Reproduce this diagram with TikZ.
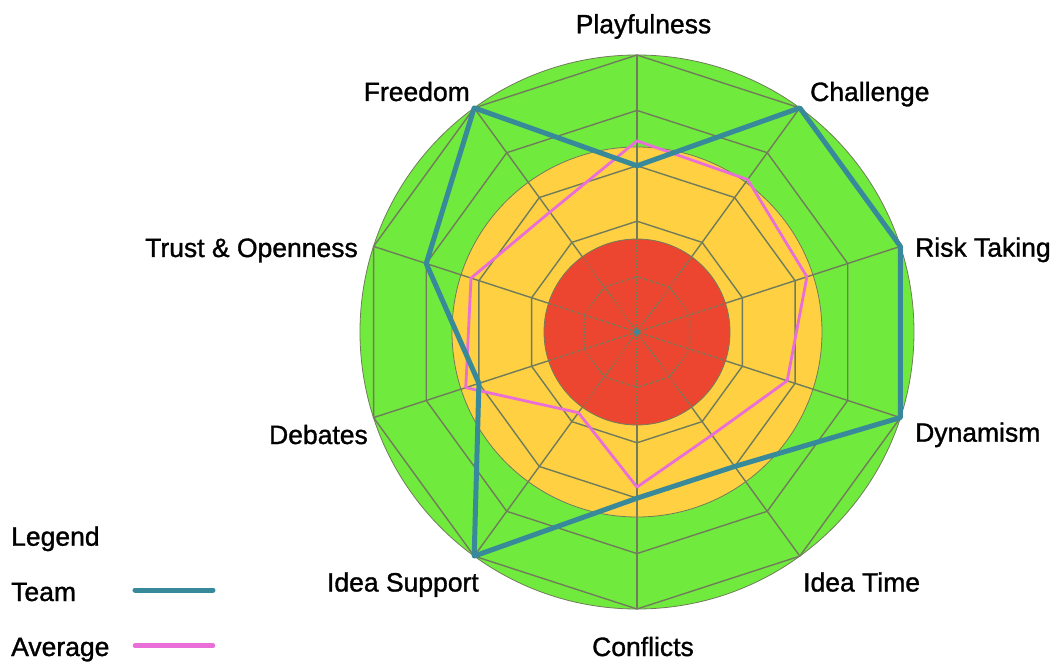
\documentclass[tikz,border=0pt]{standalone}
\usepackage{fontspec}
\setmainfont{Liberation Sans}[FakeBold=1.2]
\usetikzlibrary{positioning}

\definecolor{zonegreen}{RGB}{112,234,60}
\definecolor{zoneyellow}{RGB}{255,208,66}
\definecolor{zonered}{RGB}{236,70,48}
\definecolor{gridgray}{RGB}{112,124,92}
\definecolor{teamteal}{RGB}{56,138,154}
\definecolor{avgpink}{RGB}{234,110,216}

\tikzset{
  gridline/.style={draw=gridgray, line width=1.4pt},
  griddot/.style={gridline, dash pattern=on 1.6pt off 1.6pt},
  zone/.style={draw=gridgray, line width=0.8pt},
  teamline/.style={draw=teamteal, line width=5pt, line join=round},
  avgline/.style={draw=avgpink, line width=2.8pt, line join=round},
  axislabel/.style={inner sep=0pt},
}

\begin{document}
\begin{tikzpicture}[x=1pt, y=1pt, font=\fontsize{26.5}{30}\selectfont]
    \useasboundingbox (-637,-332) rectangle (421,332);
    % Zonen
    \fill[zonegreen, zone] (0,0) circle (277pt);
    \fill[zoneyellow, zone] (0,0) circle (185pt);
    \fill[zonered, zone] (0,0) circle (93pt);
    % Netz
    \draw[griddot] (90:55.4) \foreach \k in {1,...,9} { -- ({90-36*\k}:55.4) } -- cycle;
    \foreach \l in {2,...,5} {
        \draw[gridline] (90:{55.4*\l}) \foreach \k in {1,...,9} { -- ({90-36*\k}:{55.4*\l}) } -- cycle;
    }
    \foreach \k in {0,...,9} {
        \draw[griddot] (0,0) -- ({90-36*\k}:93);
        \draw[gridline] ({90-36*\k}:93) -- ({90-36*\k}:277);
    }
    \fill[teamteal] (0,0) circle (3pt);
    % Werte
    \foreach \v [count=\i] in {0.69,0.68,0.645,0.57,0.46,0.56,0.36,0.65,0.63,0.535} {
        \coordinate (A\i) at ({90-36*(\i-1)}:{277*\v});
    }
    \foreach \v [count=\i] in {0.6,1,1,1,0.6,0.6,1,0.6,0.8,1} {
        \coordinate (T\i) at ({90-36*(\i-1)}:{277*\v});
    }
    \draw[avgline] (A1) \foreach \i in {2,...,10} { -- (A\i) } -- cycle;
    \draw[teamline] (T1) \foreach \i in {2,...,10} { -- (T\i) } -- cycle;
    % Achsen
    \node[axislabel, anchor=base] (play) at (6.5,298.7) {Playfulness};
    \node[axislabel, anchor=base west] (chal) at (173,231) {Challenge};
    \node[axislabel, anchor=base west] (risk) at (278,75.3) {Risk Taking};
    \node[axislabel, anchor=base west] (dyna) at (278,-109.7) {Dynamism};
    \node[axislabel, anchor=base west] (time) at (166,-259.5) {Idea Time};
    \node[axislabel, anchor=base] (conf) at (6,-324) {Conflicts};
    \node[axislabel, anchor=base east] (supp) at (-158,-259.5) {Idea Support};
    \node[axislabel, anchor=base east] (deba) at (-269,-112) {Debates};
    \node[axislabel, anchor=base east] (trust) at (-279,75) {Trust \& Openness};
    \node[axislabel, anchor=base east] (free) at (-167,231) {Freedom};
    % Legende
    \node[axislabel, anchor=base west] (leg) at (-626,-213.7) {Legend};
    \node[axislabel, anchor=base west] (legteam) at (-626,-269) {Team};
    \node[axislabel, anchor=base west] (legavg) at (-626,-324) {Average};
    \coordinate (tl1) at (-502,-258);
    \coordinate (tl2) at (-424,-258);
    \coordinate (al1) at (-502,-313.7);
    \coordinate (al2) at (-424,-313.7);
    \draw[teamteal, line width=5pt, line cap=round] (tl1) -- (tl2);
    \draw[avgpink, line width=4.5pt, line cap=round] (al1) -- (al2);
\end{tikzpicture}
\end{document}
